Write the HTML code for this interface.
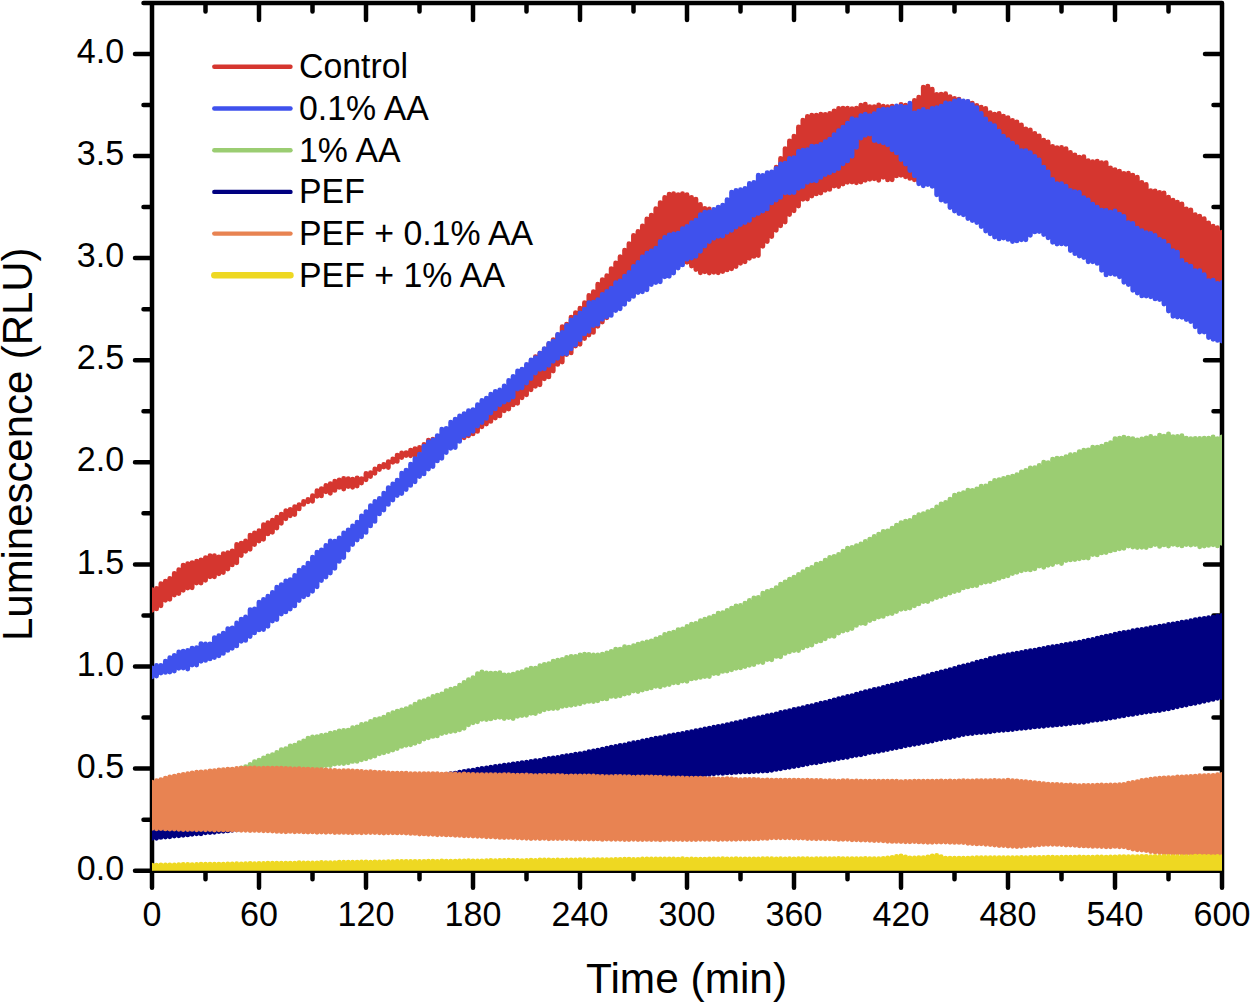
<!DOCTYPE html>
<html lang="en"><head><meta charset="utf-8"><title>Luminescence (RLU) vs Time (min)</title>
<style>html,body{margin:0;padding:0;background:#fff}svg{display:block}</style></head>
<body>
<svg width="1250" height="1003" viewBox="0 0 1250 1003">
<defs><clipPath id="plot"><rect x="152.0" y="3.1" width="1070.0" height="867.6"/></clipPath></defs>
<rect width="1250" height="1003" fill="#fff"/>
<path d="M152.0 3.1H1222.0V870.7H152.0ZM152.00 870.7v17.0M152.00 3.10v17.0M205.50 870.7v8.5M205.50 3.10v8.5M259.00 870.7v17.0M259.00 3.10v17.0M312.50 870.7v8.5M312.50 3.10v8.5M366.00 870.7v17.0M366.00 3.10v17.0M419.50 870.7v8.5M419.50 3.10v8.5M473.00 870.7v17.0M473.00 3.10v17.0M526.50 870.7v8.5M526.50 3.10v8.5M580.00 870.7v17.0M580.00 3.10v17.0M633.50 870.7v8.5M633.50 3.10v8.5M687.00 870.7v17.0M687.00 3.10v17.0M740.50 870.7v8.5M740.50 3.10v8.5M794.00 870.7v17.0M794.00 3.10v17.0M847.50 870.7v8.5M847.50 3.10v8.5M901.00 870.7v17.0M901.00 3.10v17.0M954.50 870.7v8.5M954.50 3.10v8.5M1008.00 870.7v17.0M1008.00 3.10v17.0M1061.50 870.7v8.5M1061.50 3.10v8.5M1115.00 870.7v17.0M1115.00 3.10v17.0M1168.50 870.7v8.5M1168.50 3.10v8.5M1222.00 870.7v17.0M1222.00 3.10v17.0M152.0 870.70h-17.0M1222.0 870.70h-17.0M152.0 819.65h-8.5M1222.0 819.65h-8.5M152.0 768.60h-17.0M1222.0 768.60h-17.0M152.0 717.55h-8.5M1222.0 717.55h-8.5M152.0 666.50h-17.0M1222.0 666.50h-17.0M152.0 615.45h-8.5M1222.0 615.45h-8.5M152.0 564.40h-17.0M1222.0 564.40h-17.0M152.0 513.35h-8.5M1222.0 513.35h-8.5M152.0 462.30h-17.0M1222.0 462.30h-17.0M152.0 411.25h-8.5M1222.0 411.25h-8.5M152.0 360.20h-17.0M1222.0 360.20h-17.0M152.0 309.15h-8.5M1222.0 309.15h-8.5M152.0 258.10h-17.0M1222.0 258.10h-17.0M152.0 207.05h-8.5M1222.0 207.05h-8.5M152.0 156.00h-17.0M1222.0 156.00h-17.0M152.0 104.95h-8.5M1222.0 104.95h-8.5M152.0 53.90h-17.0M1222.0 53.90h-17.0M152.0 3.10h-8.5M1222.0 3.10h-8.5" fill="none" stroke="#000" stroke-width="4.5" stroke-linecap="round" stroke-linejoin="round"/>
<g clip-path="url(#plot)" fill="none" stroke-linecap="round" stroke-width="4.9">
<path stroke="#D5362F" d="M152.0 589.7V610.3M156.5 588.5V608.9M160.9 583.8V605.7M165.4 581.2V600.3M169.8 578.5V599.2M174.3 573.4V595.0M178.8 569.7V593.6M183.2 565.1V590.2M187.7 563.8V588.1M192.1 562.6V587.8M196.6 561.2V583.1M201.0 559.9V583.0M205.5 557.6V580.2M210.0 555.7V576.8M214.4 555.6V576.8M218.9 556.9V573.8M223.3 553.6V572.5M227.8 552.6V569.1M232.2 550.9V564.9M236.7 544.5V562.8M241.2 543.1V555.6M245.6 540.9V551.2M250.1 535.1V549.3M254.5 532.9V544.5M259.0 530.7V541.0M263.5 524.8V539.3M267.9 522.7V533.9M272.4 520.2V532.3M276.8 517.2V528.0M281.3 514.1V523.3M285.8 510.8V518.7M290.2 509.4V515.7M294.7 506.6V514.5M299.1 504.6V508.9M303.6 501.4V504.4M308.0 499.5V501.7M312.5 495.8V501.3M317.0 490.8V496.3M321.4 488.6V495.9M325.9 485.4V491.7M330.3 483.8V493.2M334.8 481.2V490.4M339.2 480.0V487.4M343.7 478.5V489.1M348.2 478.6V486.5M352.6 479.2V487.3M357.1 478.0V486.0M361.5 478.6V483.0M366.0 473.4V479.7M370.5 472.6V476.5M374.9 468.9V473.2M379.4 466.2V469.5M383.8 464.5V467.0M388.3 461.7V467.6M392.8 458.9V462.3M397.2 455.1V461.4M401.7 453.0V457.6M406.1 452.8V455.6M410.6 450.1V455.8M415.0 448.6V455.3M419.5 447.5V452.6M424.0 444.5V449.3M428.4 440.3V450.9M432.9 439.2V445.9M437.3 438.2V445.2M441.8 435.0V444.1M446.2 435.5V443.8M450.7 433.5V442.1M455.2 431.2V439.9M459.6 427.9V437.7M464.1 427.2V437.7M468.5 421.3V435.8M473.0 418.4V433.9M477.5 415.5V431.4M481.9 413.0V426.7M486.4 408.6V424.1M490.8 404.0V421.4M495.3 401.2V418.1M499.8 397.7V415.9M504.2 392.8V410.7M508.7 387.4V409.0M513.1 383.4V404.9M517.6 378.6V403.2M522.0 374.5V397.7M526.5 369.0V394.8M531.0 362.5V389.7M535.4 356.7V386.2M539.9 353.2V384.8M544.3 349.1V378.8M548.8 343.9V376.9M553.2 339.7V371.0M557.7 334.9V364.4M562.2 326.7V362.0M566.6 324.3V354.6M571.1 317.1V352.9M575.5 312.6V346.1M580.0 308.3V344.3M584.5 302.7V338.6M588.9 295.4V335.1M593.4 291.8V332.4M597.8 284.3V326.2M602.3 279.7V322.1M606.8 275.7V317.7M611.2 268.8V311.0M615.7 262.9V309.0M620.1 256.7V304.8M624.6 250.3V297.8M629.0 243.7V294.7M633.5 235.5V290.5M638.0 231.4V289.1M642.4 226.0V283.7M646.9 219.0V282.3M651.3 215.1V280.3M655.8 208.8V277.2M660.2 202.8V272.1M664.7 197.5V272.3M669.2 194.1V268.1M673.6 193.8V267.8M678.1 194.7V264.5M682.5 193.6V261.1M687.0 194.7V262.2M691.5 197.4V266.1M695.9 199.1V269.5M700.4 204.4V272.8M704.8 208.5V271.8M709.3 208.9V273.0M713.8 212.1V272.3M718.2 214.5V272.8M722.7 214.1V271.5M727.1 209.1V269.9M731.6 206.0V268.7M736.0 205.8V266.5M740.5 203.0V263.2M745.0 196.6V261.8M749.4 193.4V258.2M753.9 190.4V256.4M758.3 186.8V255.5M762.8 180.0V246.3M767.2 177.0V241.6M771.7 172.8V236.5M776.2 167.2V230.2M780.6 158.4V225.7M785.1 148.6V222.0M789.5 141.0V214.6M794.0 136.1V210.7M798.5 126.9V206.0M802.9 120.1V199.3M807.4 116.5V199.0M811.8 115.2V196.0M816.3 115.2V193.9M820.8 114.2V193.0M825.2 114.4V190.2M829.7 113.4V189.4M834.1 110.9V186.1M838.6 108.4V186.6M843.0 108.1V184.1M847.5 108.3V182.3M852.0 108.8V182.1M856.4 108.3V182.8M860.9 105.2V182.0M865.3 104.2V180.3M869.8 106.7V179.3M874.2 106.8V178.8M878.7 105.0V180.3M883.2 106.2V177.2M887.6 106.7V179.9M892.1 106.1V179.7M896.5 107.2V175.9M901.0 104.5V175.2M905.5 105.3V176.8M909.9 105.3V178.4M914.4 100.4V179.8M918.8 97.1V181.4M923.3 87.2V180.8M927.8 86.1V182.4M932.2 89.2V185.3M936.7 94.4V187.4M941.1 94.1V189.3M945.6 93.7V188.1M950.0 96.6V190.7M954.5 98.4V192.4M959.0 99.1V193.1M963.4 102.0V194.0M967.9 101.6V194.6M972.3 103.2V195.5M976.8 105.5V193.1M981.2 107.3V196.8M985.7 108.5V195.4M990.2 112.7V196.3M994.6 114.1V197.5M999.1 113.4V199.9M1003.5 116.3V200.0M1008.0 117.8V200.4M1012.5 120.5V201.9M1016.9 122.0V205.0M1021.4 124.9V206.1M1025.8 129.0V205.1M1030.3 129.9V206.8M1034.8 133.5V208.5M1039.2 136.0V209.3M1043.7 140.3V211.9M1048.1 141.9V212.0M1052.6 146.4V214.8M1057.0 147.8V217.8M1061.5 147.4V219.3M1066.0 148.6V218.6M1070.4 152.4V220.7M1074.9 155.0V223.2M1079.3 157.3V225.8M1083.8 156.8V226.7M1088.2 160.8V228.0M1092.7 161.8V230.1M1097.2 161.1V231.4M1101.6 162.8V235.7M1106.1 162.6V237.5M1110.5 168.0V238.9M1115.0 169.7V242.3M1119.5 171.3V244.1M1123.9 173.5V246.6M1128.4 173.2V248.4M1132.8 175.3V251.2M1137.3 177.3V255.3M1141.8 182.4V257.1M1146.2 184.5V259.6M1150.7 190.7V259.6M1155.1 190.9V263.3M1159.6 192.5V265.2M1164.0 193.0V266.6M1168.5 197.2V270.0M1173.0 200.2V271.2M1177.4 202.2V274.1M1181.9 204.0V278.4M1186.3 209.0V280.4M1190.8 210.0V282.8M1195.2 214.8V283.0M1199.7 216.2V285.6M1204.2 218.7V287.5M1208.6 223.0V290.1M1213.1 226.3V292.5M1217.5 227.7V297.8M1222.0 232.3V299.9"/>
<path stroke="#3F51ED" d="M152.0 668.0V676.7M156.5 665.5V676.0M160.9 665.4V673.1M165.4 661.2V672.4M169.8 657.8V672.0M174.3 655.4V671.0M178.8 652.0V668.2M183.2 651.3V668.0M187.7 650.4V669.1M192.1 648.1V665.1M196.6 647.8V665.1M201.0 643.6V661.2M205.5 644.0V660.4M210.0 644.0V658.9M214.4 637.6V657.5M218.9 635.7V655.7M223.3 633.1V653.4M227.8 628.8V650.4M232.2 628.0V648.2M236.7 623.0V645.9M241.2 619.2V641.2M245.6 617.0V640.4M250.1 609.7V636.6M254.5 609.0V632.9M259.0 602.3V629.9M263.5 599.4V629.5M267.9 596.2V626.3M272.4 592.5V621.1M276.8 587.2V619.6M281.3 584.6V614.0M285.8 581.0V611.9M290.2 579.6V609.1M294.7 575.5V605.9M299.1 570.2V600.6M303.6 567.4V596.7M308.0 563.1V594.8M312.5 557.2V591.3M317.0 552.2V586.7M321.4 550.0V580.6M325.9 545.5V577.0M330.3 541.0V573.0M334.8 541.3V568.2M339.2 537.9V561.4M343.7 533.0V557.5M348.2 529.9V550.1M352.6 526.0V544.6M357.1 522.3V540.0M361.5 515.9V536.7M366.0 511.6V532.4M370.5 505.6V525.9M374.9 501.5V521.4M379.4 498.4V513.9M383.8 493.1V510.0M388.3 487.7V504.4M392.8 483.9V500.1M397.2 480.2V495.6M401.7 473.3V493.5M406.1 470.1V489.6M410.6 464.2V485.4M415.0 458.6V481.7M419.5 454.2V476.5M424.0 446.3V473.9M428.4 441.9V469.1M432.9 440.0V466.5M437.3 435.6V460.9M441.8 429.2V458.3M446.2 428.5V452.6M450.7 422.2V448.3M455.2 419.3V447.5M459.6 416.0V441.4M464.1 413.6V436.1M468.5 410.8V434.3M473.0 409.6V431.2M477.5 404.7V426.1M481.9 400.4V422.5M486.4 398.1V418.4M490.8 394.2V413.1M495.3 391.4V408.9M499.8 390.0V404.8M504.2 385.9V402.1M508.7 380.5V400.1M513.1 376.5V397.0M517.6 371.0V389.1M522.0 369.1V387.7M526.5 364.5V383.1M531.0 360.0V378.6M535.4 357.8V373.1M539.9 353.1V369.4M544.3 348.7V368.7M548.8 343.4V365.2M553.2 341.1V361.2M557.7 334.5V358.2M562.2 332.4V354.0M566.6 325.5V353.8M571.1 319.9V348.7M575.5 317.3V344.8M580.0 313.0V339.8M584.5 309.1V333.9M588.9 302.8V331.2M593.4 302.3V325.6M597.8 299.6V324.2M602.3 294.5V319.3M606.8 291.5V316.7M611.2 288.1V315.4M615.7 282.6V310.5M620.1 281.0V308.8M624.6 276.3V304.2M629.0 272.4V299.5M633.5 266.4V296.4M638.0 262.4V292.5M642.4 257.0V291.7M646.9 253.3V289.8M651.3 250.9V284.6M655.8 248.1V282.6M660.2 241.4V281.8M664.7 237.4V276.8M669.2 234.9V276.2M673.6 234.0V273.0M678.1 233.2V268.1M682.5 228.8V264.9M687.0 226.4V259.3M691.5 222.8V258.1M695.9 220.2V256.2M700.4 214.7V251.2M704.8 212.1V246.0M709.3 212.0V241.5M713.8 209.4V238.3M718.2 207.1V236.2M722.7 205.1V236.0M727.1 199.7V232.3M731.6 192.3V230.2M736.0 190.5V227.0M740.5 189.8V224.5M745.0 188.5V222.5M749.4 183.4V220.4M753.9 182.4V215.3M758.3 175.2V213.4M762.8 175.4V211.0M767.2 172.8V208.9M771.7 172.0V202.9M776.2 168.5V200.0M780.6 164.0V197.3M785.1 163.2V192.8M789.5 158.5V192.9M794.0 157.6V192.6M798.5 151.4V188.3M802.9 150.3V186.5M807.4 149.8V182.2M811.8 146.1V180.7M816.3 146.1V180.7M820.8 144.4V177.4M825.2 141.6V174.5M829.7 139.2V172.7M834.1 134.6V170.7M838.6 130.7V168.5M843.0 127.1V163.8M847.5 123.2V160.9M852.0 118.7V156.2M856.4 119.6V147.3M860.9 115.6V138.1M865.3 114.1V135.3M869.8 115.8V134.0M874.2 113.8V140.6M878.7 110.3V141.6M883.2 109.1V142.8M887.6 109.5V144.8M892.1 108.0V149.7M896.5 106.0V152.9M901.0 106.1V159.6M905.5 107.1V164.1M909.9 103.2V170.6M914.4 113.0V175.7M918.8 111.1V183.8M923.3 109.4V185.7M927.8 111.5V184.6M932.2 108.4V186.3M936.7 107.6V194.7M941.1 106.2V200.1M945.6 103.0V201.4M950.0 103.4V207.5M954.5 101.0V211.1M959.0 99.9V213.5M963.4 100.9V214.7M967.9 101.5V218.6M972.3 104.7V220.5M976.8 107.7V222.6M981.2 113.5V226.5M985.7 119.0V231.1M990.2 123.8V233.8M994.6 125.7V237.0M999.1 131.2V238.9M1003.5 136.3V238.0M1008.0 139.7V239.4M1012.5 143.1V241.5M1016.9 146.6V240.9M1021.4 150.6V239.7M1025.8 150.8V239.7M1030.3 152.8V235.2M1034.8 156.4V231.9M1039.2 160.0V231.6M1043.7 167.2V234.5M1048.1 171.9V237.8M1052.6 179.4V242.3M1057.0 183.8V244.1M1061.5 183.8V243.9M1066.0 186.1V244.2M1070.4 190.4V250.6M1074.9 191.8V253.6M1079.3 192.5V256.0M1083.8 197.8V257.5M1088.2 199.9V261.7M1092.7 204.3V261.8M1097.2 207.1V263.4M1101.6 210.1V270.2M1106.1 210.4V274.9M1110.5 212.3V273.8M1115.0 211.0V274.4M1119.5 214.1V276.8M1123.9 216.4V282.3M1128.4 222.8V284.5M1132.8 223.4V290.3M1137.3 228.3V293.0M1141.8 230.6V295.9M1146.2 232.8V296.0M1150.7 233.5V296.8M1155.1 235.5V298.9M1159.6 239.4V299.6M1164.0 241.1V304.1M1168.5 245.5V311.1M1173.0 250.6V316.2M1177.4 252.2V317.0M1181.9 260.5V317.3M1186.3 264.4V319.5M1190.8 266.1V321.6M1195.2 270.7V326.7M1199.7 270.6V332.0M1204.2 274.8V332.0M1208.6 280.7V337.6M1213.1 280.1V339.2M1217.5 283.5V340.4M1222.0 282.5V341.1"/>
<path stroke="#9BCD72" d="M152.0 801.7V813.3M156.5 800.2V813.1M160.9 799.0V811.5M165.4 797.0V810.8M169.8 795.7V810.1M174.3 793.4V809.3M178.8 792.4V807.9M183.2 790.8V806.7M187.7 789.0V806.4M192.1 786.7V805.5M196.6 785.1V804.7M201.0 783.2V803.3M205.5 781.5V803.0M210.0 780.6V802.0M214.4 778.6V801.2M218.9 777.2V800.2M223.3 775.0V799.2M227.8 773.3V798.1M232.2 772.3V797.6M236.7 770.7V795.9M241.2 768.0V795.5M245.6 766.7V794.8M250.1 764.4V793.8M254.5 761.7V791.4M259.0 760.3V790.0M263.5 757.9V789.1M267.9 755.9V787.3M272.4 754.7V784.9M276.8 752.5V783.6M281.3 749.7V782.4M285.8 748.6V780.8M290.2 745.9V778.8M294.7 745.1V776.6M299.1 742.8V775.1M303.6 741.0V773.2M308.0 738.3V771.7M312.5 737.0V770.0M317.0 736.6V769.1M321.4 735.4V767.5M325.9 734.9V765.5M330.3 733.2V765.5M334.8 732.4V764.0M339.2 731.0V763.5M343.7 730.5V763.5M348.2 730.1V762.8M352.6 727.8V761.4M357.1 726.9V761.3M361.5 724.4V759.8M366.0 723.7V758.7M370.5 721.5V757.2M374.9 719.4V756.1M379.4 718.6V753.8M383.8 717.1V752.7M388.3 714.4V751.6M392.8 712.7V750.1M397.2 711.3V748.5M401.7 709.9V746.4M406.1 708.7V745.3M410.6 706.7V744.8M415.0 704.1V743.3M419.5 701.8V741.7M424.0 700.8V739.1M428.4 698.9V737.7M432.9 696.5V736.4M437.3 695.2V735.9M441.8 693.9V733.6M446.2 690.8V732.6M450.7 689.2V731.5M455.2 688.2V731.1M459.6 685.2V729.7M464.1 682.4V728.2M468.5 679.6V724.8M473.0 677.6V722.7M477.5 673.7V721.8M481.9 672.0V719.2M486.4 672.9V719.6M490.8 673.1V718.9M495.3 673.1V717.7M499.8 672.6V717.2M504.2 675.0V718.5M508.7 674.9V717.6M513.1 674.1V718.5M517.6 672.6V716.2M522.0 671.6V715.5M526.5 669.6V715.2M531.0 668.2V713.2M535.4 668.3V713.6M539.9 665.8V711.5M544.3 664.5V709.7M548.8 663.6V708.8M553.2 661.1V708.6M557.7 660.1V708.3M562.2 659.4V706.4M566.6 657.5V705.8M571.1 656.4V705.2M575.5 656.4V704.5M580.0 654.9V703.8M584.5 654.2V702.2M588.9 654.4V701.4M593.4 654.9V701.5M597.8 654.9V700.7M602.3 654.3V698.9M606.8 653.0V698.9M611.2 651.4V696.4M615.7 649.1V696.6M620.1 649.1V695.7M624.6 646.8V694.0M629.0 647.2V693.2M633.5 645.7V691.0M638.0 644.1V691.5M642.4 642.9V690.1M646.9 642.0V688.9M651.3 640.9V687.9M655.8 638.9V686.2M660.2 637.4V686.7M664.7 634.4V685.2M669.2 633.3V684.5M673.6 632.2V682.7M678.1 629.7V682.7M682.5 629.0V681.1M687.0 626.4V681.3M691.5 624.1V678.9M695.9 623.5V678.2M700.4 620.8V677.4M704.8 619.3V676.6M709.3 617.7V676.5M713.8 616.3V673.6M718.2 613.2V673.6M722.7 612.8V671.4M727.1 610.4V671.0M731.6 608.1V669.7M736.0 606.0V668.3M740.5 605.4V667.9M745.0 603.3V666.5M749.4 600.5V665.2M753.9 598.0V664.5M758.3 597.4V662.3M762.8 593.3V662.5M767.2 591.4V659.5M771.7 590.1V659.7M776.2 587.8V656.4M780.6 584.1V656.7M785.1 582.0V653.4M789.5 579.2V651.8M794.0 577.1V650.6M798.5 574.5V650.5M802.9 571.8V647.7M807.4 569.3V646.0M811.8 567.4V645.0M816.3 564.3V641.7M820.8 563.3V640.9M825.2 560.3V638.7M829.7 557.4V636.3M834.1 556.4V636.2M838.6 554.5V633.0M843.0 551.3V631.0M847.5 548.2V630.0M852.0 547.5V628.6M856.4 545.7V625.4M860.9 543.9V623.3M865.3 541.4V623.5M869.8 539.1V620.5M874.2 536.4V618.9M878.7 534.1V617.0M883.2 531.5V616.4M887.6 531.0V614.1M892.1 528.2V613.5M896.5 525.3V611.6M901.0 522.8V609.2M905.5 521.2V608.7M909.9 520.4V608.0M914.4 517.2V605.7M918.8 514.8V603.9M923.3 513.7V601.5M927.8 511.7V601.6M932.2 510.2V599.3M936.7 507.0V597.6M941.1 504.0V596.2M945.6 502.4V594.8M950.0 499.2V593.1M954.5 495.3V591.5M959.0 494.0V590.5M963.4 492.8V587.9M967.9 490.3V586.9M972.3 490.5V585.9M976.8 488.9V585.6M981.2 486.1V583.0M985.7 485.9V582.0M990.2 483.2V581.5M994.6 480.5V579.9M999.1 479.8V578.4M1003.5 478.4V576.9M1008.0 477.1V575.7M1012.5 476.3V573.5M1016.9 474.7V572.2M1021.4 471.9V570.8M1025.8 470.5V569.7M1030.3 468.0V569.9M1034.8 467.6V568.7M1039.2 465.5V566.0M1043.7 462.3V567.2M1048.1 462.7V565.2M1052.6 459.2V564.5M1057.0 458.1V562.3M1061.5 458.2V563.5M1066.0 456.6V560.5M1070.4 454.8V559.9M1074.9 454.5V559.6M1079.3 451.6V558.8M1083.8 450.3V557.9M1088.2 450.0V558.1M1092.7 447.2V554.5M1097.2 447.2V554.9M1101.6 446.2V552.9M1106.1 444.2V552.6M1110.5 442.7V550.9M1115.0 438.8V549.9M1119.5 438.1V548.7M1123.9 437.3V548.2M1128.4 438.2V546.1M1132.8 438.6V547.1M1137.3 439.9V547.5M1141.8 439.0V547.3M1146.2 438.0V547.6M1150.7 436.5V545.9M1155.1 437.9V544.5M1159.6 435.1V546.4M1164.0 436.1V544.9M1168.5 433.9V546.0M1173.0 436.7V544.2M1177.4 436.5V545.1M1181.9 435.7V545.9M1186.3 438.1V544.5M1190.8 438.7V545.0M1195.2 438.5V544.5M1199.7 438.4V546.7M1204.2 438.2V546.1M1208.6 438.3V545.4M1213.1 437.0V544.8M1217.5 438.6V545.9M1222.0 437.0V543.4"/>
<path stroke="#000080" d="M152.0 822.2V838.3M156.5 821.3V838.2M160.9 821.0V837.4M165.4 820.1V837.0M169.8 819.4V836.7M174.3 819.3V836.1M178.8 818.4V835.7M183.2 818.1V835.2M187.7 817.4V834.9M192.1 816.8V834.3M196.6 816.2V833.8M201.0 815.7V833.7M205.5 814.7V832.8M210.0 814.5V832.6M214.4 813.6V832.2M218.9 812.9V831.6M223.3 812.7V831.3M227.8 811.7V830.9M232.2 811.2V830.3M236.7 810.8V829.8M241.2 809.9V829.2M245.6 809.6V829.2M250.1 808.9V828.8M254.5 808.3V828.0M259.0 807.5V827.6M263.5 807.1V827.3M267.9 806.6V826.9M272.4 805.7V826.5M276.8 805.5V826.0M281.3 804.9V825.5M285.8 803.9V825.0M290.2 803.7V824.3M294.7 803.0V824.1M299.1 802.0V823.7M303.6 801.5V823.0M308.0 800.8V822.4M312.5 799.9V821.8M317.0 798.7V821.3M321.4 798.0V820.4M325.9 797.2V820.2M330.3 796.3V819.6M334.8 795.5V818.8M339.2 794.5V818.2M343.7 793.6V817.6M348.2 792.9V817.1M352.6 792.1V816.8M357.1 791.3V815.9M361.5 790.7V815.6M366.0 789.4V814.6M370.5 788.7V814.0M374.9 788.1V813.6M379.4 787.2V812.8M383.8 786.0V812.2M388.3 785.5V811.9M392.8 784.3V811.1M397.2 783.9V810.7M401.7 782.7V809.9M406.1 782.1V809.3M410.6 781.2V809.0M415.0 780.3V808.3M419.5 779.3V807.4M424.0 778.6V807.0M428.4 777.7V806.2M432.9 777.0V805.6M437.3 776.1V805.3M441.8 775.3V804.5M446.2 774.4V803.9M450.7 773.7V803.3M455.2 773.2V802.8M459.6 772.2V802.6M464.1 771.5V802.0M468.5 770.8V801.6M473.0 770.1V801.2M477.5 769.3V800.7M481.9 768.5V800.2M486.4 767.9V799.7M490.8 767.1V799.7M495.3 766.5V798.9M499.8 765.9V798.6M504.2 765.3V798.3M508.7 764.8V797.8M513.1 764.0V797.3M517.6 763.4V797.0M522.0 762.8V796.4M526.5 762.3V795.7M531.0 761.4V795.5M535.4 760.6V795.0M539.9 760.4V794.7M544.3 759.3V794.0M548.8 758.5V793.8M553.2 758.0V793.0M557.7 757.4V792.7M562.2 756.5V792.3M566.6 755.7V791.7M571.1 755.1V791.6M575.5 754.2V791.2M580.0 753.8V790.4M584.5 753.0V790.2M588.9 751.7V789.9M593.4 751.0V789.3M597.8 750.3V788.7M602.3 749.3V788.3M606.8 748.1V787.6M611.2 747.2V787.1M615.7 746.5V786.6M620.1 745.4V785.8M624.6 744.9V785.5M629.0 743.8V784.8M633.5 742.8V784.3M638.0 742.2V783.5M642.4 741.0V783.2M646.9 740.2V782.3M651.3 739.3V781.9M655.8 738.3V781.4M660.2 737.8V780.5M664.7 736.8V780.3M669.2 735.7V779.6M673.6 735.0V778.8M678.1 734.1V778.6M682.5 733.5V778.0M687.0 732.5V777.5M691.5 731.8V776.8M695.9 730.8V776.1M700.4 730.0V775.7M704.8 728.9V774.9M709.3 728.3V774.4M713.8 727.2V773.8M718.2 726.5V773.3M722.7 725.6V773.4M727.1 724.7V772.9M731.6 723.6V772.7M736.0 722.8V772.4M740.5 721.8V772.1M745.0 720.8V771.8M749.4 719.5V771.9M753.9 718.6V771.6M758.3 717.8V771.2M762.8 716.9V771.0M767.2 715.6V770.9M771.7 714.9V770.2M776.2 714.0V769.4M780.6 712.5V768.7M785.1 711.8V767.9M789.5 710.7V767.3M794.0 709.5V766.5M798.5 708.6V765.7M802.9 707.6V764.9M807.4 706.4V764.0M811.8 705.7V763.1M816.3 704.5V762.7M820.8 703.3V761.8M825.2 702.4V760.9M829.7 701.3V760.2M834.1 699.9V759.5M838.6 698.7V758.5M843.0 697.7V757.8M847.5 696.5V757.2M852.0 695.6V756.0M856.4 694.1V755.2M860.9 692.9V754.7M865.3 691.7V753.8M869.8 690.7V752.6M874.2 689.5V752.0M878.7 688.7V751.2M883.2 687.5V750.4M887.6 686.3V749.5M892.1 685.3V748.6M896.5 684.0V747.8M901.0 682.9V746.9M905.5 681.5V745.8M909.9 680.3V745.0M914.4 679.3V744.2M918.8 678.2V743.6M923.3 676.7V742.5M927.8 675.6V741.8M932.2 674.3V741.1M936.7 673.1V739.8M941.1 672.0V739.0M945.6 671.0V738.1M950.0 669.8V737.6M954.5 668.4V736.6M959.0 666.9V735.5M963.4 665.9V734.6M967.9 664.9V733.8M972.3 663.8V733.5M976.8 662.2V732.8M981.2 661.3V732.6M985.7 660.1V732.2M990.2 658.5V731.8M994.6 657.8V731.1M999.1 656.4V730.5M1003.5 655.7V730.2M1008.0 654.8V729.9M1012.5 654.0V729.5M1016.9 653.3V728.8M1021.4 652.5V728.4M1025.8 651.5V728.1M1030.3 650.7V727.5M1034.8 650.3V726.9M1039.2 649.1V726.5M1043.7 648.4V726.2M1048.1 647.5V725.6M1052.6 646.8V725.4M1057.0 646.2V724.9M1061.5 645.2V724.6M1066.0 644.5V724.1M1070.4 643.8V723.5M1074.9 642.9V722.9M1079.3 642.3V722.5M1083.8 641.3V722.2M1088.2 640.2V721.4M1092.7 639.4V720.4M1097.2 638.3V720.0M1101.6 637.2V719.4M1106.1 636.1V718.7M1110.5 635.5V718.0M1115.0 634.1V717.4M1119.5 633.2V716.4M1123.9 632.5V715.8M1128.4 631.9V714.8M1132.8 630.8V714.4M1137.3 629.9V713.6M1141.8 629.4V712.7M1146.2 628.7V712.0M1150.7 627.7V711.6M1155.1 627.2V710.9M1159.6 626.1V710.5M1164.0 625.6V709.6M1168.5 624.4V708.9M1173.0 623.9V707.7M1177.4 623.2V706.7M1181.9 622.2V705.8M1186.3 621.7V705.1M1190.8 620.8V703.9M1195.2 619.8V703.2M1199.7 618.9V702.2M1204.2 618.5V701.2M1208.6 617.7V700.3M1213.1 617.1V699.4M1217.5 616.2V698.3M1222.0 615.5V697.5"/>
<path stroke="#E88352" d="M152.0 782.1V828.4M156.5 780.7V828.8M160.9 779.6V828.6M165.4 778.3V828.9M169.8 776.9V829.0M174.3 776.1V829.1M178.8 775.3V829.2M183.2 774.5V829.6M187.7 773.7V829.5M192.1 772.9V829.4M196.6 772.2V829.7M201.0 772.0V829.5M205.5 771.8V829.8M210.0 770.9V829.6M214.4 770.6V830.0M218.9 770.0V829.7M223.3 769.8V829.9M227.8 769.1V829.9M232.2 769.1V830.1M236.7 768.4V830.1M241.2 768.2V830.2M245.6 768.1V830.3M250.1 768.1V830.5M254.5 768.0V830.4M259.0 768.4V830.6M263.5 768.2V830.7M267.9 768.2V830.8M272.4 768.3V831.1M276.8 768.2V831.4M281.3 768.3V831.5M285.8 768.4V831.7M290.2 768.7V831.4M294.7 768.9V831.7M299.1 768.8V831.5M303.6 769.3V831.9M308.0 769.1V832.0M312.5 769.5V831.9M317.0 769.8V832.2M321.4 769.7V832.1M325.9 769.9V832.2M330.3 770.4V832.1M334.8 770.5V832.5M339.2 770.9V832.4M343.7 770.7V832.4M348.2 770.8V832.5M352.6 771.0V832.7M357.1 771.3V832.4M361.5 771.4V832.7M366.0 771.9V832.5M370.5 771.8V832.6M374.9 772.2V832.5M379.4 772.4V832.8M383.8 772.4V833.0M388.3 772.9V832.7M392.8 773.2V832.7M397.2 773.1V832.9M401.7 773.3V832.8M406.1 773.3V833.1M410.6 773.7V833.4M415.0 773.7V833.4M419.5 773.8V834.0M424.0 773.6V833.9M428.4 773.6V834.2M432.9 773.6V834.2M437.3 773.6V834.8M441.8 774.2V834.6M446.2 774.0V834.9M450.7 774.0V834.9M455.2 774.0V835.2M459.6 774.4V835.4M464.1 774.0V835.7M468.5 774.4V835.7M473.0 774.4V836.1M477.5 774.6V836.3M481.9 774.7V836.3M486.4 774.7V836.8M490.8 774.7V836.7M495.3 774.7V837.1M499.8 774.9V837.4M504.2 774.7V837.5M508.7 774.8V837.4M513.1 775.1V837.6M517.6 775.3V837.8M522.0 775.2V838.0M526.5 775.0V838.2M531.0 775.4V838.5M535.4 775.6V838.3M539.9 775.4V838.5M544.3 775.4V838.3M548.8 775.5V838.7M553.2 775.7V838.5M557.7 775.5V838.5M562.2 775.6V838.5M566.6 776.1V838.5M571.1 775.9V838.6M575.5 776.0V839.1M580.0 775.9V839.0M584.5 775.9V838.8M588.9 775.9V839.1M593.4 776.0V839.0M597.8 776.4V838.9M602.3 776.5V839.4M606.8 776.7V839.1M611.2 776.7V839.3M615.7 776.4V839.2M620.1 776.4V839.3M624.6 776.8V839.6M629.0 776.7V839.5M633.5 777.1V839.3M638.0 776.9V839.6M642.4 777.0V839.5M646.9 777.0V839.4M651.3 777.0V839.6M655.8 777.3V839.4M660.2 777.2V839.7M664.7 777.7V839.4M669.2 777.7V839.3M673.6 777.9V839.6M678.1 778.0V839.3M682.5 778.0V839.5M687.0 778.2V839.6M691.5 778.3V839.5M695.9 778.2V839.6M700.4 778.1V839.2M704.8 778.5V839.3M709.3 778.6V839.4M713.8 778.8V839.1M718.2 779.0V839.5M722.7 779.0V839.3M727.1 778.8V839.3M731.6 778.9V839.3M736.0 779.4V839.2M740.5 779.6V839.0M745.0 779.4V839.0M749.4 779.4V839.0M753.9 779.5V838.7M758.3 779.6V838.8M762.8 780.1V838.3M767.2 780.0V838.4M771.7 780.1V837.8M776.2 780.3V837.7M780.6 780.1V837.7M785.1 780.3V837.8M789.5 780.3V837.8M794.0 780.3V838.1M798.5 780.2V838.0M802.9 780.4V838.0M807.4 780.3V838.6M811.8 780.5V838.6M816.3 780.5V838.7M820.8 780.5V838.6M825.2 780.9V838.8M829.7 780.8V838.8M834.1 781.0V838.9M838.6 781.1V839.4M843.0 780.8V839.3M847.5 780.8V839.3M852.0 781.2V839.8M856.4 781.0V839.8M860.9 781.2V840.1M865.3 781.3V840.0M869.8 781.1V840.3M874.2 781.3V840.5M878.7 781.2V840.6M883.2 781.2V840.7M887.6 781.1V841.2M892.1 781.3V841.4M896.5 781.3V841.4M901.0 781.6V841.5M905.5 781.5V841.7M909.9 781.5V841.7M914.4 781.3V841.5M918.8 781.2V841.9M923.3 781.3V842.0M927.8 781.1V842.2M932.2 781.3V842.2M936.7 781.1V842.0M941.1 781.0V842.1M945.6 781.2V842.1M950.0 780.9V842.2M954.5 781.1V842.4M959.0 780.9V842.4M963.4 780.7V842.6M967.9 780.9V843.2M972.3 780.9V843.6M976.8 780.6V843.9M981.2 780.7V843.8M985.7 780.7V844.3M990.2 780.8V844.5M994.6 780.5V845.0M999.1 780.6V845.6M1003.5 780.8V845.5M1008.0 780.3V846.1M1012.5 780.8V846.3M1016.9 781.0V846.5M1021.4 781.5V846.3M1025.8 781.8V845.8M1030.3 782.3V845.5M1034.8 782.7V845.3M1039.2 783.3V844.7M1043.7 783.7V844.4M1048.1 784.1V844.2M1052.6 784.5V844.2M1057.0 784.4V844.4M1061.5 784.8V844.6M1066.0 785.1V845.1M1070.4 784.9V845.1M1074.9 785.5V845.2M1079.3 785.6V845.7M1083.8 785.4V845.9M1088.2 785.5V846.1M1092.7 785.4V846.4M1097.2 785.3V846.2M1101.6 784.9V846.5M1106.1 785.3V846.7M1110.5 784.9V846.8M1115.0 785.0V846.4M1119.5 784.6V846.7M1123.9 784.4V846.8M1128.4 783.2V847.9M1132.8 782.5V849.0M1137.3 781.6V849.8M1141.8 780.5V850.0M1146.2 779.9V850.6M1150.7 779.3V851.5M1155.1 778.7V851.9M1159.6 778.3V852.6M1164.0 778.0V853.0M1168.5 777.7V853.2M1173.0 777.6V853.3M1177.4 776.9V853.3M1181.9 776.9V853.5M1186.3 776.6V853.7M1190.8 776.4V853.8M1195.2 776.2V853.9M1199.7 775.7V853.9M1204.2 775.8V854.1M1208.6 775.4V854.4M1213.1 775.4V854.5M1217.5 774.7V854.6M1222.0 774.5V854.4"/>
<path stroke="#EED822" d="M152.0 865.2V870.6M156.5 865.1V870.6M160.9 864.9V870.4M165.4 864.9V870.7M169.8 865.0V870.7M174.3 864.9V870.7M178.8 864.8V870.7M183.2 864.5V870.5M187.7 864.4V870.5M192.1 864.6V870.5M196.6 864.5V870.5M201.0 864.3V870.6M205.5 864.1V870.6M210.0 864.2V870.6M214.4 864.3V870.4M218.9 864.1V870.6M223.3 864.2V870.4M227.8 863.9V870.4M232.2 864.0V870.5M236.7 863.7V870.7M241.2 864.0V870.5M245.6 863.7V870.7M250.1 863.5V870.6M254.5 863.8V870.6M259.0 863.5V870.5M263.5 863.5V870.7M267.9 863.3V870.6M272.4 863.3V870.4M276.8 863.3V870.7M281.3 863.2V870.5M285.8 863.2V870.7M290.2 863.1V870.6M294.7 863.1V870.7M299.1 862.8V870.7M303.6 863.0V870.6M308.0 862.9V870.7M312.5 863.0V870.4M317.0 862.9V870.7M321.4 862.5V870.6M325.9 862.6V870.7M330.3 862.7V870.7M334.8 862.6V870.6M339.2 862.3V870.7M343.7 862.2V870.6M348.2 862.3V870.5M352.6 862.2V870.7M357.1 862.1V870.5M361.5 862.0V870.4M366.0 862.0V870.4M370.5 862.1V870.5M374.9 861.9V870.5M379.4 862.0V870.6M383.8 862.0V870.4M388.3 861.7V870.6M392.8 861.8V870.7M397.2 861.5V870.7M401.7 861.5V870.6M406.1 861.4V870.6M410.6 861.4V870.7M415.0 861.4V870.4M419.5 861.5V870.7M424.0 861.5V870.6M428.4 861.2V870.5M432.9 861.2V870.5M437.3 861.4V870.4M441.8 861.0V870.4M446.2 861.1V870.5M450.7 861.1V870.5M455.2 861.1V870.6M459.6 860.9V870.5M464.1 860.9V870.7M468.5 860.8V870.4M473.0 861.0V870.7M477.5 860.9V870.6M481.9 860.9V870.4M486.4 860.7V870.7M490.8 860.5V870.6M495.3 860.8V870.4M499.8 860.4V870.7M504.2 860.4V870.5M508.7 860.3V870.6M513.1 860.4V870.6M517.6 860.5V870.6M522.0 860.6V870.6M526.5 860.4V870.7M531.0 860.1V870.7M535.4 860.4V870.4M539.9 860.0V870.6M544.3 860.0V870.5M548.8 860.0V870.4M553.2 860.2V870.5M557.7 860.0V870.7M562.2 860.1V870.5M566.6 860.0V870.5M571.1 859.9V870.5M575.5 860.0V870.6M580.0 859.7V870.7M584.5 859.7V870.7M588.9 859.9V870.5M593.4 859.7V870.5M597.8 859.6V870.5M602.3 859.6V870.7M606.8 859.6V870.7M611.2 859.6V870.5M615.7 859.4V870.7M620.1 859.4V870.6M624.6 859.2V870.7M629.0 859.3V870.6M633.5 859.4V870.7M638.0 859.4V870.6M642.4 859.0V870.5M646.9 859.0V870.7M651.3 859.0V870.5M655.8 859.0V870.7M660.2 859.0V870.6M664.7 859.0V870.5M669.2 859.0V870.5M673.6 858.9V870.7M678.1 859.1V870.5M682.5 858.8V870.4M687.0 859.2V870.7M691.5 858.9V870.4M695.9 859.2V870.4M700.4 859.1V870.5M704.8 859.1V870.7M709.3 858.9V870.7M713.8 858.9V870.4M718.2 859.0V870.4M722.7 858.8V870.7M727.1 858.9V870.6M731.6 858.9V870.7M736.0 858.8V870.5M740.5 859.0V870.5M745.0 858.9V870.7M749.4 858.9V870.4M753.9 858.9V870.5M758.3 859.0V870.5M762.8 858.7V870.5M767.2 858.7V870.4M771.7 858.7V870.5M776.2 859.0V870.4M780.6 858.8V870.6M785.1 858.9V870.6M789.5 858.7V870.6M794.0 859.0V870.4M798.5 858.6V870.6M802.9 858.8V870.6M807.4 858.6V870.4M811.8 858.9V870.5M816.3 858.7V870.7M820.8 858.8V870.7M825.2 858.8V870.5M829.7 858.6V870.5M834.1 858.7V870.4M838.6 858.5V870.4M843.0 858.8V870.4M847.5 858.7V870.5M852.0 858.6V870.5M856.4 858.6V870.4M860.9 858.6V870.5M865.3 858.5V870.5M869.8 858.6V870.7M874.2 858.7V870.7M878.7 858.6V870.7M883.2 858.5V870.5M887.6 857.9V870.7M892.1 857.5V870.6M896.5 856.5V870.4M901.0 855.9V870.4M905.5 856.9V870.6M909.9 858.0V870.6M914.4 857.9V870.6M918.8 857.8V870.5M923.3 857.6V870.6M927.8 856.9V870.6M932.2 855.9V870.6M936.7 855.5V870.4M941.1 856.6V870.5M945.6 858.1V870.5M950.0 858.3V870.5M954.5 858.1V870.5M959.0 858.2V870.4M963.4 858.2V870.7M967.9 858.1V870.6M972.3 858.0V870.7M976.8 857.8V870.4M981.2 857.7V870.4M985.7 857.6V870.4M990.2 857.7V870.7M994.6 857.8V870.6M999.1 857.7V870.7M1003.5 857.8V870.4M1008.0 857.6V870.6M1012.5 857.7V870.4M1016.9 857.6V870.7M1021.4 857.5V870.6M1025.8 857.7V870.7M1030.3 857.4V870.6M1034.8 857.5V870.6M1039.2 857.4V870.4M1043.7 857.5V870.6M1048.1 857.3V870.7M1052.6 857.2V870.6M1057.0 857.4V870.6M1061.5 857.3V870.7M1066.0 857.3V870.6M1070.4 857.1V870.6M1074.9 857.3V870.6M1079.3 857.0V870.5M1083.8 857.3V870.6M1088.2 857.3V870.7M1092.7 857.2V870.6M1097.2 857.0V870.4M1101.6 857.0V870.5M1106.1 857.1V870.6M1110.5 857.0V870.6M1115.0 856.9V870.7M1119.5 856.6V870.7M1123.9 856.6V870.7M1128.4 856.8V870.6M1132.8 856.7V870.6M1137.3 856.6V870.7M1141.8 856.5V870.4M1146.2 856.5V870.5M1150.7 856.7V870.4M1155.1 856.4V870.6M1159.6 856.7V870.7M1164.0 856.4V870.4M1168.5 856.5V870.4M1173.0 856.6V870.4M1177.4 856.6V870.7M1181.9 856.6V870.5M1186.3 856.6V870.4M1190.8 856.6V870.5M1195.2 856.3V870.5M1199.7 856.3V870.5M1204.2 856.4V870.6M1208.6 856.4V870.6M1213.1 856.6V870.4M1217.5 856.5V870.6M1222.0 856.6V870.4"/>
</g>
<g font-family="'Liberation Sans', sans-serif" fill="#000">
<g font-size="34.1" text-anchor="middle">
<text transform="translate(152.0 925.8) scale(1 1.045)">0</text>
<text transform="translate(259.0 925.8) scale(1 1.045)">60</text>
<text transform="translate(366.0 925.8) scale(1 1.045)">120</text>
<text transform="translate(473.0 925.8) scale(1 1.045)">180</text>
<text transform="translate(580.0 925.8) scale(1 1.045)">240</text>
<text transform="translate(687.0 925.8) scale(1 1.045)">300</text>
<text transform="translate(794.0 925.8) scale(1 1.045)">360</text>
<text transform="translate(901.0 925.8) scale(1 1.045)">420</text>
<text transform="translate(1008.0 925.8) scale(1 1.045)">480</text>
<text transform="translate(1115.0 925.8) scale(1 1.045)">540</text>
<text transform="translate(1222.0 925.8) scale(1 1.045)">600</text>
</g>
<g font-size="34.1" text-anchor="end">
<text transform="translate(124.2 879.8) scale(1 1.045)">0.0</text>
<text transform="translate(124.2 777.7) scale(1 1.045)">0.5</text>
<text transform="translate(124.2 675.6) scale(1 1.045)">1.0</text>
<text transform="translate(124.2 573.5) scale(1 1.045)">1.5</text>
<text transform="translate(124.2 471.4) scale(1 1.045)">2.0</text>
<text transform="translate(124.2 369.3) scale(1 1.045)">2.5</text>
<text transform="translate(124.2 267.2) scale(1 1.045)">3.0</text>
<text transform="translate(124.2 165.1) scale(1 1.045)">3.5</text>
<text transform="translate(124.2 63.0) scale(1 1.045)">4.0</text>
</g>
 <text x="686.6" y="993.1" font-size="42.4" text-anchor="middle">Time (min)</text>
<text transform="translate(31.7 444.2) rotate(-90)" font-size="41.9" text-anchor="middle">Luminescence (RLU)</text>
<g font-size="33.85">
<path d="M214.3 66.8H290.5" stroke="#D5362F" stroke-width="4.4" stroke-linecap="round" fill="none"/>
<text transform="translate(299.0 78.2) scale(1 1.045)">Control</text>
<path d="M214.3 108.5H290.5" stroke="#3F51ED" stroke-width="4.4" stroke-linecap="round" fill="none"/>
<text transform="translate(299.0 119.9) scale(1 1.045)">0.1% AA</text>
<path d="M214.3 150.2H290.5" stroke="#9BCD72" stroke-width="4.4" stroke-linecap="round" fill="none"/>
<text transform="translate(299.0 161.6) scale(1 1.045)">1% AA</text>
<path d="M214.3 191.9H290.5" stroke="#000080" stroke-width="4.4" stroke-linecap="round" fill="none"/>
<text transform="translate(299.0 203.3) scale(1 1.045)">PEF</text>
<path d="M214.3 233.6H290.5" stroke="#E88352" stroke-width="4.4" stroke-linecap="round" fill="none"/>
<text transform="translate(299.0 245.0) scale(1 1.045)">PEF + 0.1% AA</text>
<path d="M214.3 275.3H290.5" stroke="#EED822" stroke-width="6.4" stroke-linecap="round" fill="none"/>
<text transform="translate(299.0 286.7) scale(1 1.045)">PEF + 1% AA</text>
</g></g></svg>
</body></html>
